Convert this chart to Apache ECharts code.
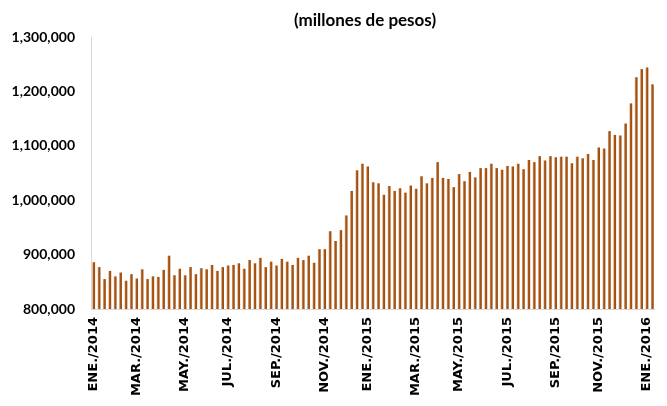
<!DOCTYPE html>
<html>
<head>
<meta charset="utf-8">
<script src="https://cdn.jsdelivr.net/npm/echarts@6/dist/echarts.min.js"></script>
<style>
html,body{margin:0;padding:0;background:#fff;}
#c{width:667px;height:406px;}
</style>
</head>
<body>
<div id="c"></div>
<script>
// weekly values (pesos, millions)
const values = [
  886000, 877000, 855000, 870000, 860000, 867000, 852000, 864000, 856000, 873000,
  855000, 860000, 859000, 872000, 898000, 862000, 874000, 862000, 877000, 864000,
  875000, 873000, 881000, 870000, 877000, 880000, 881000, 884000, 874000, 890000,
  884000, 894000, 877000, 887000, 880000, 892000, 887000, 881000, 894000, 890000,
  898000, 885000, 910000, 910000, 943000, 925000, 945000, 972000, 1017000, 1055000,
  1067000, 1062000, 1033000, 1031000, 1010000, 1026000, 1017000, 1022000, 1014000, 1027000,
  1021000, 1044000, 1031000, 1041000, 1070000, 1041000, 1039000, 1024000, 1048000, 1035000,
  1052000, 1042000, 1059000, 1059000, 1067000, 1059000, 1056000, 1063000, 1062000, 1067000,
  1057000, 1074000, 1070000, 1081000, 1073000, 1081000, 1079000, 1080000, 1080000, 1068000,
  1080000, 1077000, 1085000, 1074000, 1097000, 1095000, 1127000, 1120000, 1119000, 1141000,
  1178000, 1226000, 1241000, 1244000, 1213000
];
const tickLabels = ["ENE./2014","MAR./2014","MAY./2014","JUL./2014","SEP./2014","NOV./2014",
  "ENE./2015","MAR./2015","MAY./2015","JUL./2015","SEP./2015","NOV./2015","ENE./2016"];
const tickIndex = [0, 8, 17, 25, 34, 43, 51, 60, 68, 77, 86, 94, 103];
const yTicks = [800000, 900000, 1000000, 1100000, 1200000, 1300000];

// weekly category dates
const categories = [];
{
  const d0 = new Date(Date.UTC(2014, 0, 3));
  for (let i = 0; i < values.length; i++) {
    const d = new Date(d0.getTime() + i * 7 * 86400000);
    categories.push(d.toISOString().slice(0, 10));
  }
}
const labelMap = {};
tickIndex.forEach((ix, k) => { labelMap[ix] = tickLabels[k]; });

const chart = echarts.init(document.getElementById('c'), null, {renderer: 'canvas'});
chart.setOption({
  animation: false,
  backgroundColor: '#ffffff',
  title: {
    text: '(millones de pesos)',
    left: 360, top: 7, textAlign: 'center',
    textStyle: {fontFamily: 'Lato', fontWeight: 'bold', fontSize: 17, color: '#000'}
  },
  grid: {left: 91, right: 12, top: 37, bottom: 97, containLabel: false},
  xAxis: {
    type: 'category',
    data: categories,
    boundaryGap: true,
    axisLine: {show: true, lineStyle: {color: '#d9d9d9', width: 1}},
    axisTick: {show: false},
    axisLabel: {
      interval: function (idx) { return labelMap[idx] !== undefined; },
      formatter: function (v, idx) { return labelMap[idx] || ''; },
      rotate: 90,
      margin: 8,
      fontFamily: 'DejaVu Sans',
      fontWeight: 'bold',
      fontSize: 13,
      color: '#000'
    },
    splitLine: {show: false}
  },
  yAxis: {
    type: 'value',
    min: yTicks[0],
    max: yTicks[yTicks.length - 1],
    interval: 100000,
    axisLine: {show: true, lineStyle: {color: '#d9d9d9', width: 1}},
    axisTick: {show: false},
    splitLine: {show: false},
    axisLabel: {
      margin: 16,
      fontFamily: 'Lato',
      fontWeight: 'bold',
      fontSize: 14,
      color: '#000',
      formatter: function (v) { return v.toLocaleString('en-US'); }
    }
  },
  series: [{
    type: 'bar',
    data: values,
    barWidth: 2.8,
    itemStyle: {
      color: new echarts.graphic.LinearGradient(0, 0, 1, 0, [
        {offset: 0, color: '#e2b48e'},
        {offset: 0.4, color: '#a9581a'},
        {offset: 1, color: '#994806'}
      ])
    }
  }]
});
</script>
</body>
</html>
